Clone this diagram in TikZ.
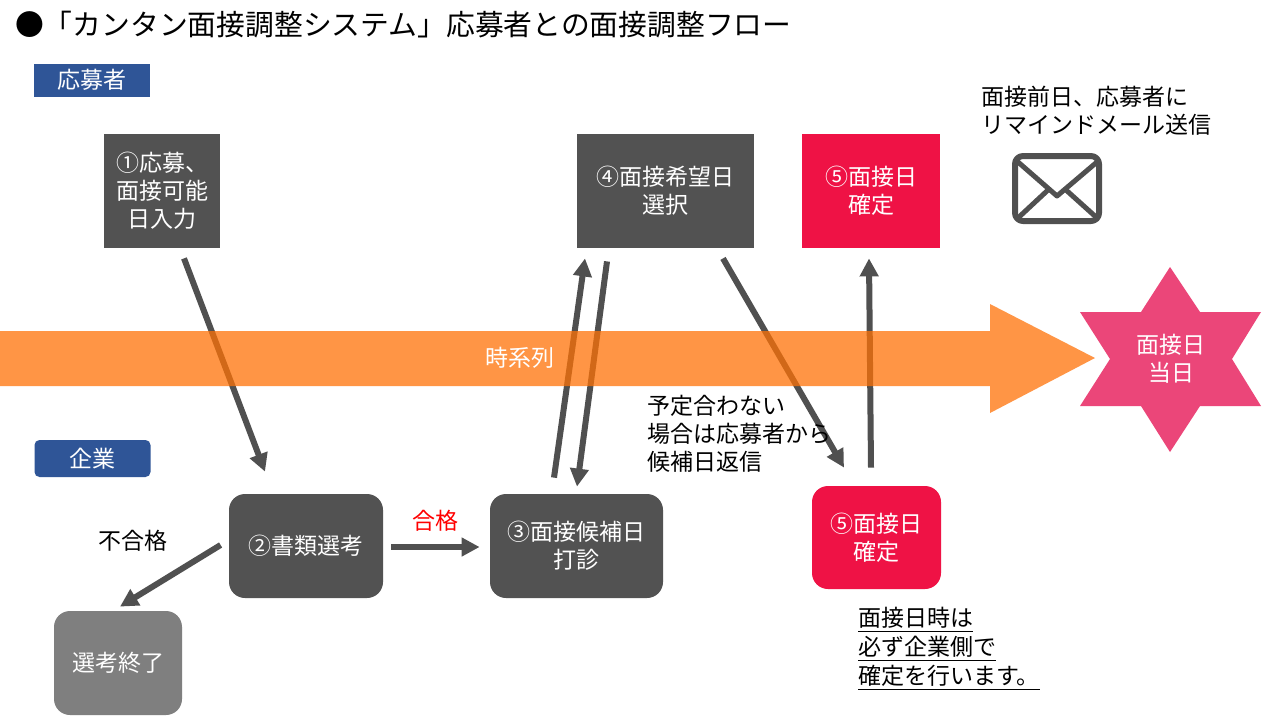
\documentclass[tikz,border=0pt]{standalone}
\usepackage{fontspec}
\newfontfamily\jpfont{Noto Sans CJK JP}
\usetikzlibrary{arrows.meta,calc}
\definecolor{boxgray}{RGB}{82,82,82}
\definecolor{flowgray}{RGB}{80,80,80}
\definecolor{tagblue}{RGB}{47,85,151}
\definecolor{fixred}{RGB}{239,18,69}
\definecolor{endgray}{RGB}{127,127,127}
\definecolor{starpink}{RGB}{235,70,121}
\definecolor{bandorange}{RGB}{255,113,5}

\begin{document}
\begin{tikzpicture}[x=0.5pt,y=-0.5pt,
        txt/.style={font=\jpfont\fontsize{11.5}{14}\selectfont},
        stepbox/.style={txt,fill=boxgray,text=white,align=center,inner sep=0pt},
        roundbox/.style={stepbox,rounded corners=8pt},
        tagbox/.style={txt,fill=tagblue,text=white,inner sep=0pt,minimum width=58pt},
        flow/.style={draw=flowgray,line width=3pt,-{Triangle[length=9pt,width=9pt]}}]
            \useasboundingbox[fill=white] (0,0) rectangle (1280,720);
            \node[anchor=west,font=\jpfont\fontsize{14.4}{17}\selectfont] (title) at (8,25) {●「カンタン面接調整システム」応募者との面接調整フロー};
            \node[tagbox,minimum height=16.5pt] (tagApp) at (92,80) {応募者};
            \node[tagbox,minimum height=18.5pt,rounded corners=2.5pt] (tagCo) at (92.5,458.5) {企業};
            \begin{scope}
                \node[stepbox,minimum width=58pt,minimum height=57pt] (apply) at (162,191) {①応募、\\面接可能\\日入力};
                \node[stepbox,minimum width=88.5pt,minimum height=57pt] (pick) at (665.5,191) {④面接希望日\\選択};
                \node[stepbox,fill=fixred,minimum width=69pt,minimum height=57pt] (fixtop) at (871,191) {⑤面接日\\確定};
            \end{scope}
            \begin{scope}
                \node[roundbox,minimum width=77pt,minimum height=52pt] (screen) at (306,546) {②書類選考};
                \node[roundbox,minimum width=86.5pt,minimum height=52pt] (propose) at (576.5,546) {③面接候補日\\打診};
                \node[roundbox,fill=endgray,minimum width=64pt,minimum height=52pt] (ended) at (118,663) {選考終了};
                \node[roundbox,fill=fixred,minimum width=64.5pt,minimum height=51.5pt] (fixbot) at (876.5,537.5) {⑤面接日\\確定};
            \end{scope}
            \draw[flow] ($(apply.south)+(22,10)$) -- ($(screen.north)+(-41,-22)$);
            \draw[flow] ($(screen.east)+(8,1)$) -- node[txt,text=red,above=3pt] (pass) {合格} ($(propose.west)+(-10,1)$);
            \draw[flow] ($(screen.west)+(-8,-1)$) -- ($(ended.north)+(2,-4)$);
            \draw[flow] ($(propose.north)+(-22.5,-16)$) -- ($(pick.south)+(-80.5,10)$);
            \draw[flow] ($(pick.south)+(-58.5,13)$) -- ($(propose.north)+(0.5,-7)$);
            \draw[flow] ($(pick.south)+(57.5,10)$) -- ($(fixbot.north)+(-32.5,-18)$);
            \draw[flow] ($(fixbot.north)+(-5.5,-18)$) -- ($(fixtop.south)+(-2,10)$);
            \fill[bandorange,fill opacity=0.74] (0,331) -- (990,331) -- (990,304) -- (1095,358) -- (990,413) -- (990,386) -- (0,386) -- cycle;
            \node[txt,text=white] (timeline) at (520,358) {時系列};
            \fill[starpink] (1170,267) -- (1200,312) -- (1261,312) -- (1232,359) -- (1261,406) -- (1200,406) -- (1170,452) -- (1141,406) -- (1080,406) -- (1110,359) -- (1080,312) -- (1141,312) -- cycle;
            \node[txt,text=white,align=center] (dday) at (1171,359) {面接日\\当日};
            \node[txt] (fail) at (133,541) {不合格};
            \node[txt,anchor=west,align=left] (remind) at (974,111) {面接前日、応募者に\\リマインドメール送信};
            \node[txt,anchor=west,align=left] (mismatch) at (640,433.5) {予定合わない\\場合は応募者から\\候補日返信};
            \node[txt,anchor=west,align=left,font=\jpfont\fontsize{11.5}{14.5}\selectfont] (note) at (851,649) {\underline{面接日時は}\\\underline{必ず企業側で}\\\underline{確定を行います。}};
            \begin{scope}[draw=flowgray,line width=2.5pt,line join=round,line cap=round]
                \draw[rounded corners=4pt,line width=3pt] (1015,156) rectangle (1099,221);
                \draw (1018,162) -- (1057,196) -- (1097,162);
                \draw (1019,217) -- (1048,190);
                \draw (1096,217) -- (1066,190);
            \end{scope}
        \end{tikzpicture}
\end{document}
